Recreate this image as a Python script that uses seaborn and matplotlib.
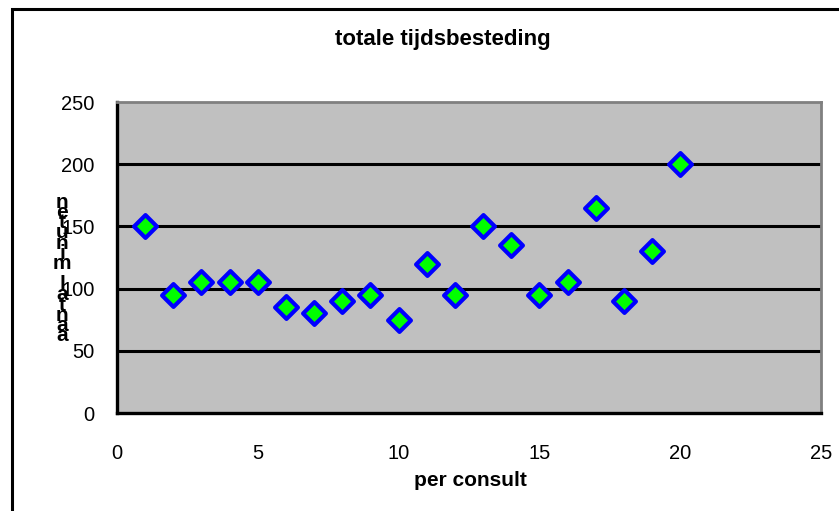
import matplotlib
matplotlib.use("Agg")
import matplotlib.pyplot as plt
import seaborn as sns
import pandas as pd
from matplotlib.patches import Rectangle

consult = list(range(1, 21))
minuten = [150, 95, 105, 105, 105, 85, 80, 90, 95, 75,
           120, 95, 150, 135, 95, 105, 165, 90, 130, 200]
x_ticks = [0, 5, 10, 15, 20, 25]
y_ticks = [0, 50, 100, 150, 200, 250]
title = "totale tijdsbesteding"
xlabel = "per consult"
ylabel = "aantal minuten"

sns.set_style("white")
plt.rcParams['font.family'] = ['Liberation Sans', 'DejaVu Sans']
plt.rcParams['text.color'] = 'black'
plt.rcParams['xtick.color'] = 'black'
plt.rcParams['ytick.color'] = 'black'

df = pd.DataFrame({"consult": consult, "minuten": minuten})

W, H = 839, 511
fig = plt.figure(figsize=(W / 100, H / 100), dpi=100)
ax = fig.add_axes([117 / W, 1 - 413 / H, (821 - 117) / W, (413 - 102) / H])
ax.set_facecolor("#C0C0C0")

for yv in y_ticks[1:-1]:
    ax.axhline(yv, color="black", lw=2.2, zorder=1)

sns.scatterplot(data=df, x="consult", y="minuten", ax=ax, marker="D",
                s=135, color="#00FF00", edgecolor="#0000FF", linewidth=3.0,
                zorder=3, legend=False)

ax.set_xlim(0, 25)
ax.set_ylim(0, 250)
ax.set_xticks(x_ticks)
ax.set_yticks(y_ticks)
ax.tick_params(axis="both", direction="out", length=7, width=2.2,
               color="black", labelsize=14.5, labelcolor="black")
ax.tick_params(axis="y", pad=9)
ax.tick_params(axis="x", pad=15)
ax.set_xlabel("")
ax.set_ylabel("")

for s in ["left", "bottom"]:
    ax.spines[s].set_color("black")
    ax.spines[s].set_linewidth(2.4)
for s in ["top", "right"]:
    ax.spines[s].set_color("#808080")
    ax.spines[s].set_linewidth(2.0)

fig.text(443 / W, 1 - 39 / H, title, ha="center", va="center",
         fontsize=16, fontweight="bold", color="black")
fig.text(470 / W, 1 - 480 / H, xlabel, ha="center", va="center",
         fontsize=15, fontweight="bold", color="black")
fig.text(62 / W, 1 - 269 / H, "\n".join(reversed(ylabel)), ha="center",
         va="center", fontsize=15, fontweight="bold", linespacing=0.42,
         multialignment="center", color="black")

fig.patches.append(Rectangle((12 / W, -0.05), 1.2, 1 - 9 / H + 0.05,
                             transform=fig.transFigure, fill=False,
                             edgecolor="black", lw=2.2, zorder=0))

fig.savefig("out.png", dpi=100)
